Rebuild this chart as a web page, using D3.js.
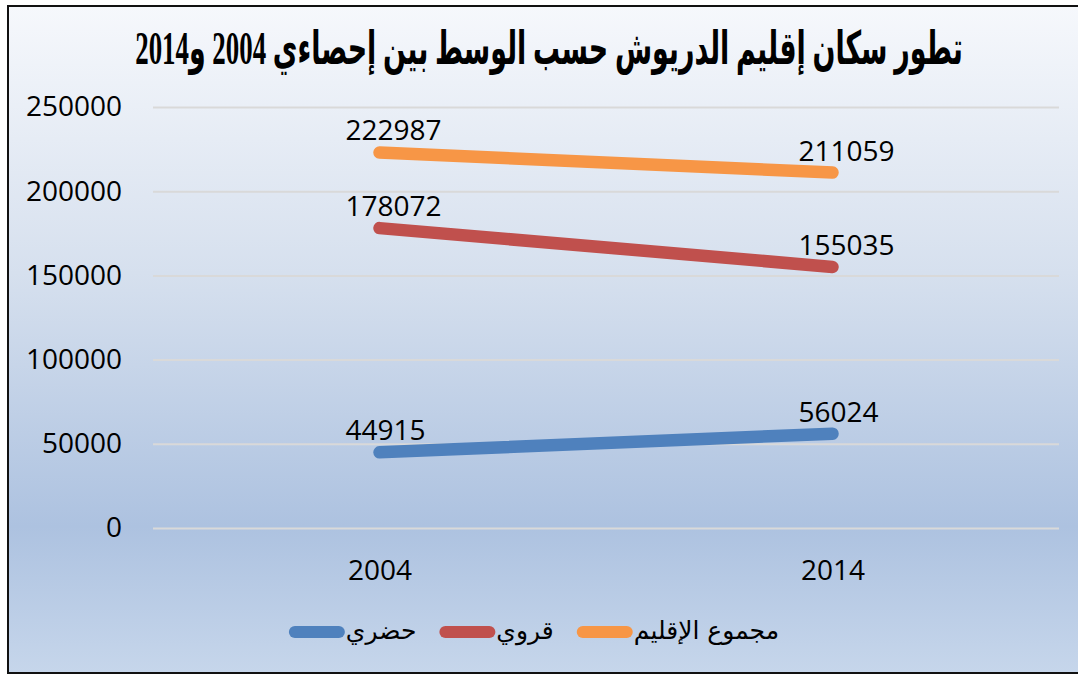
<!DOCTYPE html>
<html>
<head>
<meta charset="utf-8">
<script src="https://cdn.jsdelivr.net/npm/d3@7"></script>
<style>
  body { margin: 0; background: #fff; }
  svg { display: block; }
  .tick text { font-family: "Open Sans", sans-serif; font-size: 28px; fill: #000; }
</style>
</head>
<body>
<svg id="chart"></svg>
<script>
// chart size
const width = 1078;
const height = 675;

// data
const years = ["2004", "2014"];
const seriesNames = ["حضري", "قروي", "مجموع الإقليم"];
const urban = [44915, 56024];
const rural = [178072, 155035];
const total = [222987, 211059];
const yTicks = [0, 50000, 100000, 150000, 200000, 250000];
const colors = ["#4f81bd", "#c0504d", "#f79646"];
const title = "تطور سكان إقليم الدريوش حسب الوسط بين إحصاءي 2004 و2014";

const series = [urban, rural, total].map((vals, i) => ({
    name: seriesNames[i],
    color: colors[i],
    values: vals.map((v, j) => ({ year: years[j], value: v }))
}));

const svg = d3.select("#chart")
    .attr("width", width)
    .attr("height", height);

// background gradient like the excel chart area
const grad = svg.append("defs").append("linearGradient")
    .attr("id", "bg")
    .attr("x1", 0).attr("y1", 0)
    .attr("x2", 0).attr("y2", 1);
grad.append("stop").attr("offset", "0%").attr("stop-color", "#f6f8fc");
grad.append("stop").attr("offset", "40%").attr("stop-color", "#d6e0ee");
grad.append("stop").attr("offset", "78%").attr("stop-color", "#adc2e0");
grad.append("stop").attr("offset", "100%").attr("stop-color", "#c6d6eb");

svg.append("rect")
    .attr("x", 8).attr("y", 6)
    .attr("width", 1080).attr("height", 667)
    .attr("fill", "url(#bg)")
    .attr("stroke", "#111")
    .attr("stroke-width", 2);

// plot area
const plot = { left: 153, right: 1059, top: 107, bottom: 528 };

const x = d3.scalePoint()
    .domain(years)
    .range([plot.left, plot.right])
    .padding(0.5);

const y = d3.scaleLinear()
    .domain([0, 250000])
    .range([plot.bottom, plot.top]);

// y axis with gridlines
const yAxis = svg.append("g")
    .attr("transform", `translate(${plot.left},0)`)
    .call(d3.axisLeft(y)
        .tickValues(yTicks)
        .tickFormat(d3.format("d"))
        .tickSize(-(plot.right - plot.left))
        .tickPadding(31));
yAxis.select(".domain").remove();
yAxis.selectAll(".tick line")
    .attr("stroke", "#d9d9d9")
    .attr("stroke-width", 2);

// x axis labels
const xAxis = svg.append("g")
    .attr("transform", `translate(0,${plot.bottom})`)
    .call(d3.axisBottom(x).tickSize(0).tickPadding(32));
xAxis.select(".domain").remove();

// lines
const line = d3.line()
    .x(d => x(d.year))
    .y(d => y(d.value));

svg.selectAll(".series")
    .data(series)
    .enter()
    .append("path")
    .attr("class", "series")
    .attr("d", d => line(d.values))
    .attr("fill", "none")
    .attr("stroke", d => d.color)
    .attr("stroke-width", 12.5)
    .attr("stroke-linecap", "round");

// data labels
series.forEach(s => {
    svg.selectAll(null)
        .data(s.values)
        .enter()
        .append("text")
        .attr("x", d => x(d.year) - 34)
        .attr("y", d => y(d.value) - 12)
        .attr("font-family", "Open Sans, sans-serif")
        .attr("font-size", 28)
        .attr("fill", "#000")
        .text(d => d.value);
});

// title - squeezed horizontally to the width it has in the picture
const titleText = svg.append("text")
    .attr("x", 0)
    .attr("y", 0)
    .attr("text-anchor", "middle")
    .attr("direction", "rtl")
    .attr("font-family", "Liberation Serif, DejaVu Sans, serif")
    .attr("font-weight", "bold")
    .attr("font-size", 46)
    .attr("fill", "#000")
    .text(title);
const titleW = titleText.node().getComputedTextLength();
titleText.attr("transform", `translate(549,64) scale(${828 / titleW},1)`);

// legend, laid out left to right and centred
const legend = svg.append("g");
const swatch = 56;
let cursor = 0;
series.forEach(s => {
    const g = legend.append("g");
    g.append("line")
        .attr("x1", 6).attr("x2", swatch - 6)
        .attr("y1", 0).attr("y2", 0)
        .attr("stroke", s.color)
        .attr("stroke-width", 12)
        .attr("stroke-linecap", "round");
    const t = g.append("text")
        .attr("x", swatch + 1)
        .attr("y", 7)
        .attr("font-family", "DejaVu Sans, sans-serif")
        .attr("font-size", 25)
        .attr("fill", "#000")
        .text(s.name);
    const w = swatch + 1 + t.node().getComputedTextLength();
    g.attr("transform", `translate(${cursor},0)`);
    cursor += w + 23;
});
const legendWidth = cursor - 23;
legend.attr("transform", `translate(${534 - legendWidth / 2},632)`);
</script>
</body>
</html>
